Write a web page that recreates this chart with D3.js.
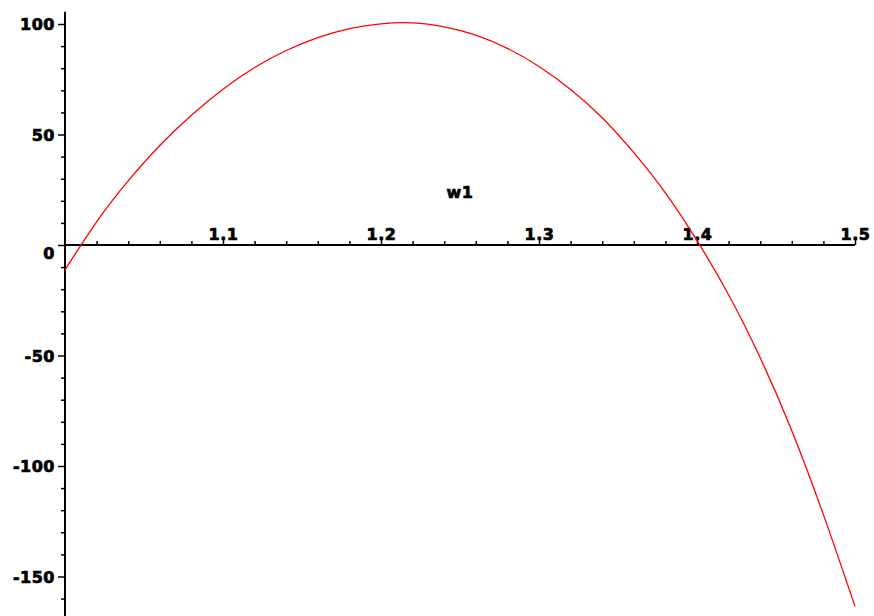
<!DOCTYPE html>
<html>
<head>
<meta charset="utf-8">
<script src="https://cdn.jsdelivr.net/npm/d3@7"></script>
<style>
  html, body { margin: 0; padding: 0; background: #fff; }
  #chart { width: 874px; height: 616px; }
  .tick-label {
    font-family: "DejaVu Sans", sans-serif; font-weight: bold; font-size: 16px;
    fill: #000; stroke: #000; stroke-width: 0.7px; letter-spacing: 0.5px;
  }
</style>
</head>
<body>
<div id="chart"></div>
<script>
// values (w1 vs f)
const w1Values = [1.00, 1.02, 1.04, 1.06, 1.08, 1.10, 1.12, 1.14, 1.16, 1.18, 1.20, 1.22, 1.24,
  1.26, 1.28, 1.30, 1.32, 1.34, 1.36, 1.38, 1.40, 1.42, 1.44, 1.46, 1.48, 1.50];
const fValues = [-11.3, 10.5, 29.0, 45.0, 58.7, 70.5, 80.3, 88.0, 93.8, 97.9, 100.1, 100.5, 98.7,
  95.0, 89.0, 80.8, 70.4, 57.6, 41.8, 23.6, 2.0, -22.5, -51.0, -84.0, -122.0, -163.5];

const xTicks = [1.1, 1.2, 1.3, 1.4, 1.5];
const xMinorTicks = [1.02, 1.04, 1.06, 1.08, 1.12, 1.14, 1.16, 1.18, 1.22, 1.24, 1.26, 1.28,
  1.32, 1.34, 1.36, 1.38, 1.42, 1.44, 1.46, 1.48];
const yTicks = [-150, -100, -50, 0, 50, 100];
const yMinorTicks = [-160, -140, -130, -120, -110, -90, -80, -70, -60, -40, -30, -20, -10,
  10, 20, 30, 40, 60, 70, 80, 90];
const xTitle = "w1";

class PlotVis {
  constructor(parentElement) {
    this.parentElement = parentElement;
    this.data = w1Values.map((w, i) => ({ w: w, f: fValues[i] }));
    this.initVis();
  }

  initVis() {
    let vis = this;
    vis.width = 874;
    vis.height = 616;

    vis.svg = d3
      .select("#" + vis.parentElement)
      .append("svg")
      .attr("width", vis.width)
      .attr("height", vis.height);

    vis.x = d3.scaleLinear().domain([1, 1.5]).range([65, 855]);
    vis.y = d3.scaleLinear().domain([-150, 100]).range([576.5, 24]);

    // y axis
    vis.svg.append("line")
      .attr("x1", vis.x(1)).attr("x2", vis.x(1))
      .attr("y1", vis.y(105.5)).attr("y2", vis.height)
      .attr("stroke", "#000").attr("stroke-width", 2);

    vis.svg.append("g")
      .attr("transform", `translate(${vis.x(1)},0)`)
      .call(d3.axisLeft(vis.y).tickValues(yMinorTicks).tickSize(4).tickFormat(""))
      .call((g) => g.select(".domain").remove())
      .call((g) => g.selectAll("line").attr("stroke-width", 1.5));

    // plain hyphen for negatives, like the original
    let yAxis = vis.svg.append("g")
      .attr("transform", `translate(${vis.x(1)},0)`)
      .call(d3.axisLeft(vis.y).tickValues(yTicks).tickSize(7).tickPadding(3).tickFormat((d) => String(d)));
    yAxis.select(".domain").remove();
    yAxis.selectAll("line").attr("stroke-width", 1.5);
    yAxis.selectAll("text")
      .attr("class", "tick-label")
      .attr("font-family", null).attr("font-size", null)
      .attr("dy", (d) => (d === 0 ? "0.85em" : "0.36em"));

    // x axis along f = 0
    vis.svg.append("line")
      .attr("x1", vis.x(1)).attr("x2", vis.x(1.5))
      .attr("y1", vis.y(0)).attr("y2", vis.y(0))
      .attr("stroke", "#000").attr("stroke-width", 2);

    vis.svg.append("g")
      .attr("transform", `translate(0,${vis.y(0)})`)
      .call(d3.axisTop(vis.x).tickValues(xMinorTicks).tickSize(4).tickFormat(""))
      .call((g) => g.select(".domain").remove())
      .call((g) => g.selectAll("line").attr("stroke-width", 1.5));

    let xAxis = vis.svg.append("g")
      .attr("transform", `translate(0,${vis.y(0)})`)
      .call(d3.axisTop(vis.x).tickValues(xTicks).tickSize(6).tickPadding(0).tickFormat(d3.format(".1f")));
    xAxis.select(".domain").remove();
    xAxis.selectAll("line").attr("stroke-width", 1.5);
    xAxis.selectAll("text")
      .attr("class", "tick-label")
      .attr("font-family", null).attr("font-size", null)
      .attr("y", -5).attr("dy", 0);

    vis.svg.append("text")
      .attr("class", "tick-label")
      .attr("x", 460)
      .attr("y", 198)
      .attr("text-anchor", "middle")
      .text(xTitle);

    // the curve
    vis.line = d3.line()
      .x((d) => vis.x(d.w))
      .y((d) => vis.y(d.f))
      .curve(d3.curveNatural);

    vis.svg.append("path")
      .datum(vis.data)
      .attr("fill", "none")
      .attr("stroke", "#ff0000")
      .attr("stroke-width", 1.3)
      .attr("d", vis.line);
  }
}

new PlotVis("chart");
</script>
</body>
</html>
